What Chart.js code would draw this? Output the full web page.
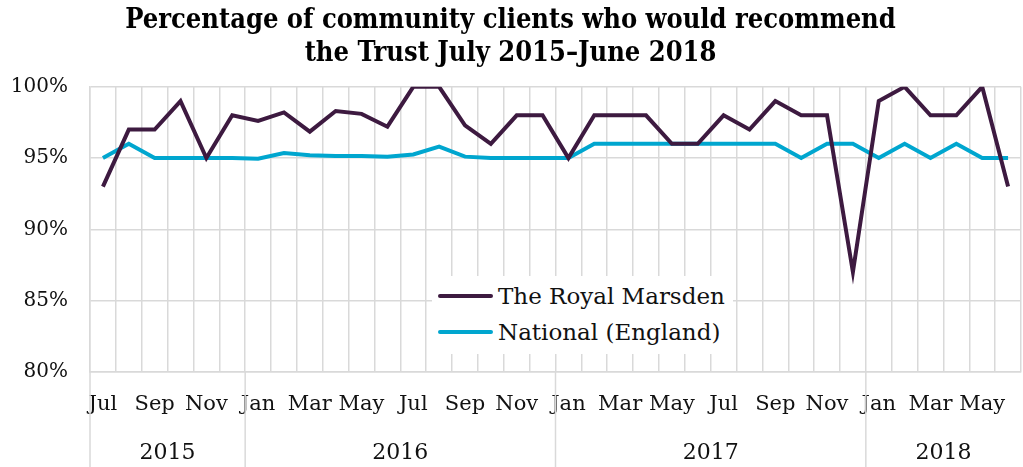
<!DOCTYPE html>
<html>
<head>
<meta charset="utf-8">
<script src="https://cdn.jsdelivr.net/npm/chart.js@4.4.0/dist/chart.umd.min.js"></script>
<style>
    html, body { margin: 0; padding: 0; background: #fff; }
    #wrap { position: relative; width: 1023px; height: 467px; }
    #legend {
        position: absolute; left: 432px; top: 276px;
        background: #fff; padding: 2px 8px 4px 6px;
        font-family: 'DejaVu Serif', Georgia, serif; font-size: 23px; color: #111;
    }
    #legend .row { display: flex; align-items: center; height: 36px; }
    #legend .swatch { width: 55px; height: 4px; border-radius: 2px; margin-right: 5px; }
</style>
</head>
<body>
<div id="wrap">
    <canvas id="chart" width="1023" height="467"></canvas>
    <div id="legend"></div>
</div>
<script>
// Months Jul 2015 - Jun 2018
const months = ['Jul','Aug','Sep','Oct','Nov','Dec',
    'Jan','Feb','Mar','Apr','May','Jun','Jul','Aug','Sep','Oct','Nov','Dec',
    'Jan','Feb','Mar','Apr','May','Jun','Jul','Aug','Sep','Oct','Nov','Dec',
    'Jan','Feb','Mar','Apr','May','Jun'];
const years = ['2015','2016','2017','2018'];
const yearCounts = [6, 12, 12, 6];

const royalMarsden = [93, 97, 97, 99, 95, 98,
    97.6, 98.2, 96.85, 98.3, 98.1, 97.2, 100, 100, 97.3, 96, 98, 98,
    95, 98, 98, 98, 96, 96, 98, 97, 99, 98, 98, 87,
    99, 100, 98, 98, 100, 93];
const national = [95, 96, 95, 95, 95, 95,
    94.95, 95.35, 95.2, 95.15, 95.15, 95.1, 95.25, 95.8, 95.1, 95, 95, 95,
    95, 96, 96, 96, 96, 96, 96, 96, 96, 95, 96, 96,
    95, 96, 95, 96, 95, 95];

const yTicks = [80, 85, 90, 95, 100];

const serif = "'DejaVu Serif', Georgia, serif";
const gridColor = '#d9d9d9';

// draws year row under the month labels
const yearRow = {
    id: 'yearRow',
    afterDraw(chart) {
        const ctx = chart.ctx;
        const x = chart.scales.x;
        const area = chart.chartArea;
        const step = x.getPixelForValue(1) - x.getPixelForValue(0);
        ctx.save();
        ctx.strokeStyle = gridColor;
        ctx.lineWidth = 1.5;
        ctx.fillStyle = '#111';
        ctx.font = '22px ' + serif;
        ctx.textAlign = 'center';
        ctx.textBaseline = 'middle';
        let start = 0;
        years.forEach((yr, i) => {
            const end = start + yearCounts[i] - 1;
            const left = x.getPixelForValue(start) - step / 2;
            ctx.beginPath();
            ctx.moveTo(left, area.bottom);
            ctx.lineTo(left, chart.height);
            ctx.stroke();
            const mid = (x.getPixelForValue(start) + x.getPixelForValue(end)) / 2;
            ctx.fillText(yr, mid, chart.height - 14);
            start = end + 1;
        });
        ctx.restore();
    }
};

const ctx = document.getElementById('chart').getContext('2d');
const chart = new Chart(ctx, {
    type: 'line',
    data: {
        labels: months,
        datasets: [
            {
                label: 'The Royal Marsden',
                data: royalMarsden,
                borderColor: '#3d1a40',
                borderWidth: 4,
                pointRadius: 0,
                tension: 0
            },
            {
                label: 'National (England)',
                data: national,
                borderColor: '#00a6cf',
                borderWidth: 4,
                pointRadius: 0,
                tension: 0
            }
        ]
    },
    options: {
        responsive: false,
        animation: false,
        layout: { padding: { left: 0, right: 2, top: 0, bottom: 30 } },
        plugins: {
            legend: { display: false },
            tooltip: { enabled: false },
            title: {
                display: true,
                text: ['Percentage of community clients who would recommend', 'the Trust July 2015\u2013June 2018'],
                color: '#000',
                font: { family: "'DejaVu Serif Condensed', 'DejaVu Serif', serif", size: 27, weight: 'bold', lineHeight: 1.2 },
                padding: { top: 5, bottom: 17 }
            }
        },
        scales: {
            x: {
                offset: true,
                afterFit: axis => { axis.paddingRight = 0; axis.paddingLeft = 0; },
                grid: { offset: true, color: gridColor, lineWidth: 1.5, drawTicks: false },
                border: { color: gridColor, width: 1.5 },
                ticks: {
                    autoSkip: false,
                    maxRotation: 0,
                    padding: 20,
                    color: '#111',
                    font: { family: serif, size: 21 },
                    callback: (v, i) => (i % 2 === 0 ? months[i] : '')
                }
            },
            y: {
                min: 80,
                max: 100,
                afterBuildTicks: axis => { axis.ticks = yTicks.map(v => ({ value: v })); },
                afterFit: axis => { axis.width = 90; },
                grid: { color: gridColor, lineWidth: 1.5, drawTicks: false },
                border: { color: gridColor, width: 1.5 },
                ticks: {
                    padding: 22,
                    color: '#111',
                    font: { family: serif, size: 20 },
                    callback: v => v + '%'
                }
            }
        }
    },
    plugins: [yearRow]
});

// legend built from the datasets
const legend = document.getElementById('legend');
chart.data.datasets.forEach(ds => {
    const row = document.createElement('div');
    row.className = 'row';
    const sw = document.createElement('span');
    sw.className = 'swatch';
    sw.style.background = ds.borderColor;
    const txt = document.createElement('span');
    txt.textContent = ds.label;
    row.appendChild(sw);
    row.appendChild(txt);
    legend.appendChild(row);
});
</script>
</body>
</html>
